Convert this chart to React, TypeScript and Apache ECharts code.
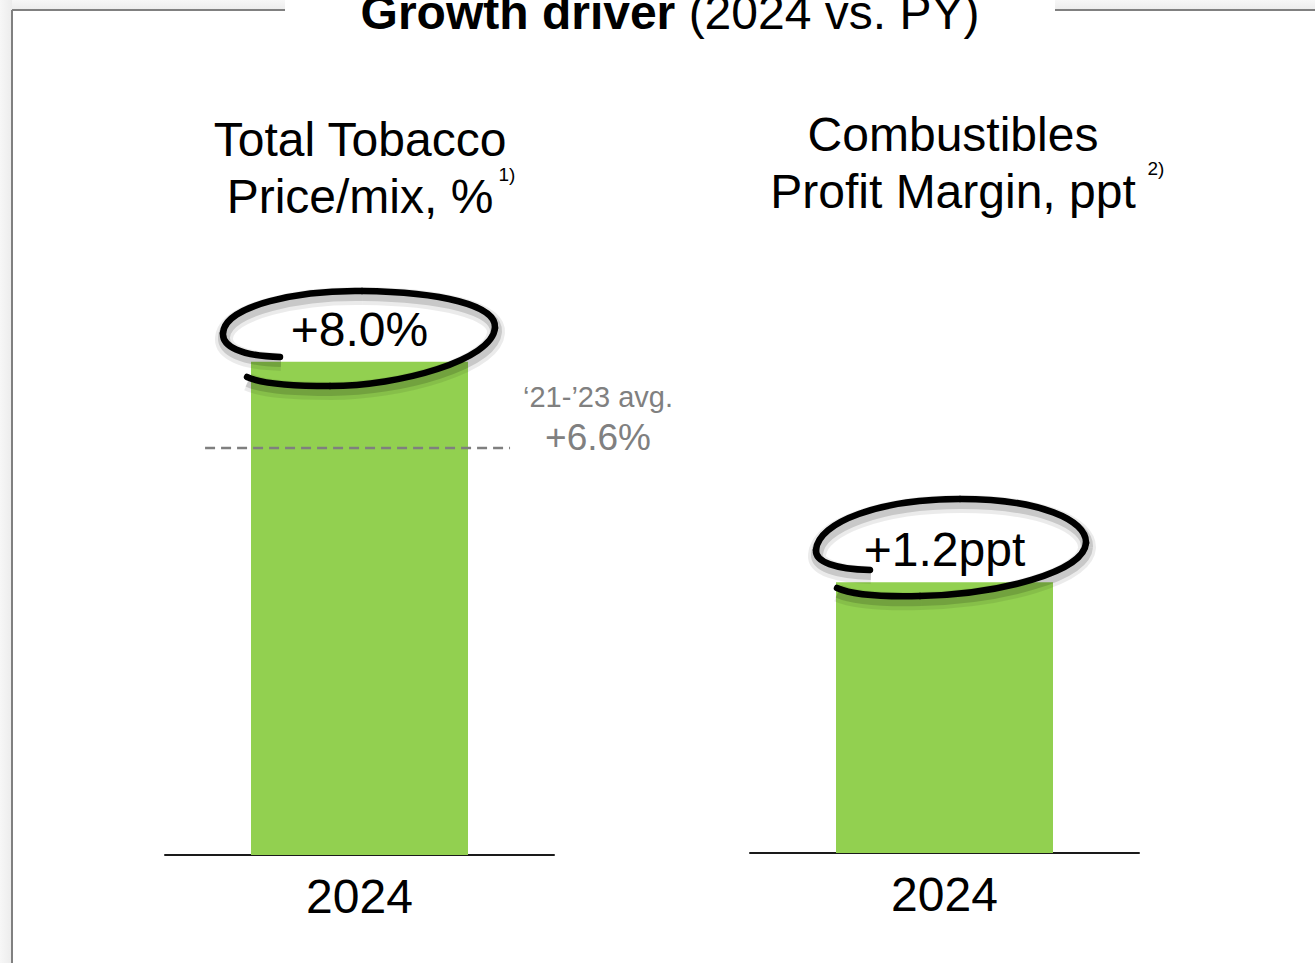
import React, { useEffect, useRef } from "react";
import * as echarts from "echarts";

const categories = ["2024"];
const priceMixValues = [8.0];
const marginValues = [1.2];
const avgPeriodLabel = "‘21-’23 avg.";
const avgValue = 6.6;
const avgLineSpan = [0.103, 0.887];
const titleBold = "Growth driver";
const titleNormal = "(2024 vs. PY)";
const leftHeading = ["Total Tobacco", "Price/mix, %"];
const rightHeading = ["Combustibles", "Profit Margin, ppt"];
const footnotes = ["1)", "2)"];

const FONT = "'Liberation Sans', Arial, Helvetica, sans-serif";
const GREEN = "#92d050";

// hand-drawn loop decorations: [x1, y1, cpx1, cpy1, cpx2, cpy2, x2, y2]
const leftLoopSegs = [
  [280, 357, 240, 356, 222, 346, 223, 333],
  [223, 333, 225, 305, 300, 290, 362, 291],
  [362, 291, 440, 292, 497, 305, 495, 328],
  [495, 328, 492, 360, 400, 386, 330, 386],
  [330, 386, 290, 386, 262, 384, 247, 377],
];
const rightLoopSegs = [
  [870, 570, 835, 569, 815, 562, 816, 550],
  [816, 550, 818, 522, 880, 499, 960, 499],
  [960, 499, 1040, 499, 1087, 520, 1086, 543],
  [1086, 543, 1084, 572, 1000, 594, 920, 596],
  [920, 596, 880, 597, 850, 594, 837, 588],
];

function loopElements(segs: number[][], key: string) {
  const layers = [
    { w: 18, color: "rgba(0,0,0,0.08)", dy: 5, dx: 1, cap: "butt", z: 8 },
    { w: 12, color: "rgba(0,0,0,0.15)", dy: 4, dx: 1, cap: "butt", z: 9 },
    { w: 6.5, color: "#000", dy: 0, dx: 0, cap: "round", z: 12 },
  ];
  const els: any[] = [];
  layers.forEach((l, li) => {
    segs.forEach((s, si) => {
      els.push({
        id: `${key}-${li}-${si}`,
        type: "bezierCurve",
        x: l.dx,
        y: l.dy,
        silent: true,
        z: l.z,
        shape: {
          x1: s[0], y1: s[1], cpx1: s[2], cpy1: s[3],
          cpx2: s[4], cpy2: s[5], x2: s[6], y2: s[7],
        },
        style: { fill: "none", stroke: l.color, lineWidth: l.w, lineCap: l.cap },
      });
    });
  });
  return els;
}

export default function App() {
  const ref = useRef<HTMLDivElement>(null);
  useEffect(() => {
    if (!ref.current) return;
    const chart = echarts.init(ref.current, undefined, { renderer: "svg" });
    const axisCommon = {
      type: "category",
      data: categories,
      axisLine: { show: true, lineStyle: { color: "#1a1a1a", width: 2 } },
      axisTick: { show: false },
      splitLine: { show: false },
      axisLabel: { fontSize: 48, color: "#000", margin: 17, fontFamily: FONT },
    };
    const labelCommon = {
      show: true,
      position: "top",
      fontSize: 48,
      color: "#000",
      fontFamily: FONT,
    };
    chart.setOption({
      animation: false,
      backgroundColor: "#fff",
      textStyle: { fontFamily: FONT },
      grid: [
        { left: 165, width: 389, top: 300, bottom: 108 },
        { left: 750, width: 389, top: 300, bottom: 110 },
      ],
      xAxis: [
        { ...axisCommon, gridIndex: 0 },
        { ...axisCommon, gridIndex: 1 },
        { type: "value", gridIndex: 0, min: 0, max: 1, show: false },
      ],
      yAxis: [
        { type: "value", gridIndex: 0, min: 0, max: 9, show: false, splitLine: { show: false } },
        { type: "value", gridIndex: 1, min: 0, max: 2.45, show: false, splitLine: { show: false } },
      ],
      series: [
        {
          type: "bar",
          xAxisIndex: 0,
          yAxisIndex: 0,
          data: priceMixValues,
          barWidth: 217,
          itemStyle: { color: GREEN },
          label: {
            ...labelCommon,
            distance: 8,
            formatter: (p: any) => `+${Number(p.value).toFixed(1)}%`,
          },
          z: 2,
        },
        {
          type: "bar",
          xAxisIndex: 1,
          yAxisIndex: 1,
          data: marginValues,
          barWidth: 217,
          itemStyle: { color: GREEN },
          label: {
            ...labelCommon,
            distance: 9,
            formatter: (p: any) => `+${Number(p.value).toFixed(1)}ppt`,
          },
          z: 2,
        },
        {
          type: "line",
          xAxisIndex: 2,
          yAxisIndex: 0,
          data: avgLineSpan.map((x) => [x, avgValue]),
          symbol: "none",
          lineStyle: { color: "#7f7f7f", width: 2.5, type: [10, 6] },
          z: 3,
        },
      ],
      graphic: [
        {
          type: "rect",
          shape: { x: 0, y: 0, width: 1315, height: 10 },
          style: {
            fill: new echarts.graphic.LinearGradient(0, 0, 0, 1, [
              { offset: 0, color: "#f7f7f7" },
              { offset: 1, color: "#ececec" },
            ]),
          },
          silent: true,
          z: -10,
        },
        {
          type: "rect",
          shape: { x: 0, y: 0, width: 12, height: 963 },
          style: {
            fill: new echarts.graphic.LinearGradient(0, 0, 1, 0, [
              { offset: 0, color: "#f7f7f7" },
              { offset: 1, color: "#ececec" },
            ]),
          },
          silent: true,
          z: -10,
        },
        {
          type: "line",
          shape: { x1: 12, y1: 10, x2: 1315, y2: 10 },
          style: { stroke: "#808080", lineWidth: 2 },
          silent: true,
          z: -9,
        },
        {
          type: "line",
          shape: { x1: 12, y1: 10, x2: 12, y2: 963 },
          style: { stroke: "#808080", lineWidth: 2 },
          silent: true,
          z: -9,
        },
        {
          type: "rect",
          shape: { x: 285, y: 0, width: 770, height: 22 },
          style: { fill: "#fff" },
          silent: true,
          z: -8,
        },
        {
          type: "text",
          x: 670,
          y: 12,
          style: {
            text: `{b|${titleBold}} {n|${titleNormal}}`,
            align: "center",
            verticalAlign: "middle",
            fontFamily: FONT,
            fontSize: 48,
            fill: "#000",
            rich: {
              b: { fontWeight: "bold", fontSize: 48, fontFamily: FONT, fill: "#000" },
              n: { fontWeight: "normal", fontSize: 48, fontFamily: FONT, fill: "#000" },
            },
          },
          z: 5,
        },
        {
          type: "text",
          x: 360,
          y: 111,
          style: {
            text: leftHeading.join("\n"),
            align: "center",
            verticalAlign: "top",
            fontFamily: FONT,
            fontSize: 48,
            lineHeight: 57,
            fill: "#000",
          },
        },
        {
          type: "text",
          x: 507,
          y: 174,
          style: {
            text: footnotes[0],
            align: "center",
            verticalAlign: "middle",
            fontFamily: FONT,
            fontSize: 19,
            fill: "#000",
          },
        },
        {
          type: "text",
          x: 953,
          y: 106,
          style: {
            text: rightHeading.join("\n"),
            align: "center",
            verticalAlign: "top",
            fontFamily: FONT,
            fontSize: 48,
            lineHeight: 57,
            fill: "#000",
          },
        },
        {
          type: "text",
          x: 1156,
          y: 168,
          style: {
            text: footnotes[1],
            align: "center",
            verticalAlign: "middle",
            fontFamily: FONT,
            fontSize: 19,
            fill: "#000",
          },
        },
        {
          type: "text",
          x: 598,
          y: 397,
          style: {
            text: avgPeriodLabel,
            align: "center",
            verticalAlign: "middle",
            fontFamily: FONT,
            fontSize: 29,
            fill: "#808080",
          },
        },
        {
          type: "text",
          x: 598,
          y: 437,
          style: {
            text: `+${avgValue.toFixed(1)}%`,
            align: "center",
            verticalAlign: "middle",
            fontFamily: FONT,
            fontSize: 37,
            fill: "#808080",
          },
        },
        ...loopElements(leftLoopSegs, "L"),
        ...loopElements(rightLoopSegs, "R"),
      ],
    });
    return () => chart.dispose();
  }, []);
  return (
    <div
      ref={ref}
      style={{ position: "fixed", left: 0, top: 0, width: 1315, height: 963 }}
    />
  );
}
